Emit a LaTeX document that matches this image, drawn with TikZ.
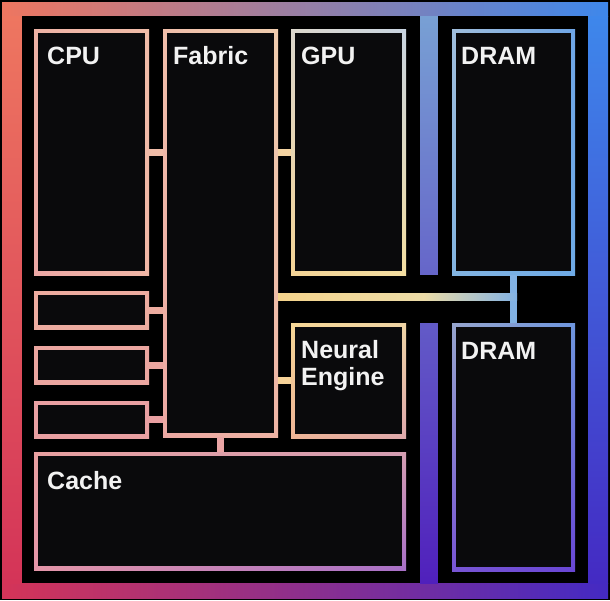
\documentclass[tikz,border=0pt]{standalone}
\usepackage{fontspec}
\setmainfont{Liberation Sans}
\usetikzlibrary{calc,shadings}
% frame colours
\definecolor{fTL}{RGB}{238,118,96}
\definecolor{fTM}{RGB}{195,170,145}
\definecolor{fTR}{RGB}{62,135,235}
\definecolor{fBL}{RGB}{212,52,88}
\definecolor{fBM}{RGB}{140,32,150}
\definecolor{fBR}{RGB}{68,42,195}
\definecolor{fLM}{RGB}{230,85,90}
\definecolor{fRM}{RGB}{62,105,220}
\definecolor{vbT}{RGB}{120,160,212}
\definecolor{vbM}{RGB}{95,115,212}
\definecolor{vbB}{RGB}{80,32,188}
% box colours
\definecolor{boxin}{RGB}{10,10,12}
\definecolor{labelc}{RGB}{242,242,242}
\definecolor{cpuA}{RGB}{238,178,165}\definecolor{cpuB}{RGB}{240,188,168}
\definecolor{cpuC}{RGB}{236,168,165}\definecolor{cpuD}{RGB}{240,182,165}
\definecolor{fabA}{RGB}{240,190,170}\definecolor{fabB}{RGB}{240,205,175}
\definecolor{fabC}{RGB}{236,168,163}\definecolor{fabD}{RGB}{238,180,165}
\definecolor{gpuA}{RGB}{220,215,205}\definecolor{gpuB}{RGB}{200,212,225}
\definecolor{gpuC}{RGB}{244,212,150}\definecolor{gpuD}{RGB}{244,222,160}
\definecolor{drA}{RGB}{160,190,220}\definecolor{drB}{RGB}{110,165,230}
\definecolor{drC}{RGB}{130,180,225}\definecolor{drD}{RGB}{110,170,230}
\definecolor{sbA}{RGB}{237,172,160}\definecolor{sbB}{RGB}{235,166,160}
\definecolor{sbC}{RGB}{233,160,162}
\definecolor{neA}{RGB}{246,215,150}\definecolor{neB}{RGB}{238,212,165}
\definecolor{neC}{RGB}{238,180,150}\definecolor{neD}{RGB}{222,168,172}
\definecolor{caA}{RGB}{232,160,160}\definecolor{caB}{RGB}{212,158,178}
\definecolor{caC}{RGB}{228,150,168}\definecolor{caD}{RGB}{168,112,200}
\definecolor{dbA}{RGB}{150,165,205}\definecolor{dbB}{RGB}{110,150,222}
\definecolor{dbC}{RGB}{120,85,212}\definecolor{dbD}{RGB}{105,70,212}
% connector colours
\definecolor{cCF}{RGB}{240,188,168}
\definecolor{cFG}{RGB}{244,212,162}
\definecolor{cFN}{RGB}{246,210,152}
\definecolor{cFC}{RGB}{234,165,165}
\definecolor{busL}{RGB}{245,212,140}
\definecolor{busM}{RGB}{236,220,168}
\definecolor{busR}{RGB}{130,178,228}
\tikzset{
  gbox/.style n args={4}{rectangle, inner sep=0pt, outer sep=0pt, draw=none,
    path picture={
      \shade[upper left=#1, upper right=#2, lower left=#3, lower right=#4]
        (path picture bounding box.south west) rectangle (path picture bounding box.north east);
      \fill[boxin] ([shift={(4pt,4pt)}]path picture bounding box.south west)
        rectangle ([shift={(-4pt,-4pt)}]path picture bounding box.north east);
    }},
  lbl/.style={text=labelc, font=\fontsize{25}{27}\selectfont\bfseries,
    inner sep=0pt, anchor=base west, align=left},
  conn/.style={line width=7pt},
}
\begin{document}
\begin{tikzpicture}[x=1pt,y=-1pt]
\useasboundingbox (0,0) rectangle (610,600);
% frame
\fill[black] (0,0) rectangle (610,600);
\shade[left color=fTL, middle color=fTM, right color=fTR] (2,2) rectangle (608,16);
\shade[left color=fBL, middle color=fBM, right color=fBR] (2,583) rectangle (608,598);
\shade[top color=fTL, middle color=fLM, bottom color=fBL] (2,16) rectangle (22,583);
\shade[top color=fTR, middle color=fRM, bottom color=fBR] (588,16) rectangle (608,583);
\shade[top color=vbT, middle color=vbM, bottom color=vbB] (420,16) rectangle (438,583);
\fill[black] (22,16) rectangle (420,583);
\fill[black] (438,16) rectangle (588,583);
\fill[black] (420,275) rectangle (438,323);
% boxes
\node[gbox={cpuA}{cpuB}{cpuC}{cpuD}, minimum width=115pt, minimum height=246pt] (cpu) at (91.5,152) {};
\node[gbox={fabA}{fabB}{fabC}{fabD}, minimum width=115pt, minimum height=408pt] (fabric) at (220.5,233) {};
\node[gbox={gpuA}{gpuB}{gpuC}{gpuD}, minimum width=115pt, minimum height=246pt] (gpu) at (348.5,152) {};
\node[gbox={drA}{drB}{drC}{drD}, minimum width=123pt, minimum height=246pt] (dram1) at (513.5,152) {};
\node[gbox={sbA}{sbA}{sbA}{sbA}, minimum width=115pt, minimum height=38pt] (sb1) at (91.5,310) {};
\node[gbox={sbB}{sbB}{sbB}{sbB}, minimum width=115pt, minimum height=38pt] (sb2) at (91.5,365) {};
\node[gbox={sbC}{sbC}{sbC}{sbC}, minimum width=115pt, minimum height=37pt] (sb3) at (91.5,419.5) {};
\node[gbox={neA}{neB}{neC}{neD}, minimum width=115pt, minimum height=115pt] (ne) at (348.5,380.5) {};
\node[gbox={caA}{caB}{caC}{caD}, minimum width=372pt, minimum height=118pt] (cache) at (220,511) {};
\node[gbox={dbA}{dbB}{dbC}{dbD}, minimum width=123pt, minimum height=248pt] (dram2) at (513.5,447) {};
% connectors
\draw[conn, cCF] (cpu.east) -- (fabric.west |- cpu.east);
\draw[conn, cFG] (fabric.east |- gpu.west) -- (gpu.west);
\draw[conn, sbA] (sb1.east) -- (fabric.west |- sb1.east);
\draw[conn, sbB] (sb2.east) -- (fabric.west |- sb2.east);
\draw[conn, sbC] (sb3.east) -- (fabric.west |- sb3.east);
\draw[conn, cFN] (fabric.east |- ne.west) -- (ne.west);
\draw[conn, cFC] (fabric.south) -- (cache.north -| fabric.south);
\coordinate (busj) at ($(dram1.south)!0.46!(dram2.north)$);
\coordinate (busm) at ($(fabric.east |- busj)!0.62!(busj)$);
\draw[conn, busR] (dram1.south) -- (dram2.north);
\shade[left color=busL, right color=busM]
  ([yshift=3.5pt]fabric.east |- busj) rectangle ([yshift=-3.5pt]busm);
\shade[left color=busM, right color=busR]
  ([xshift=-0.3pt,yshift=3.5pt]busm) rectangle ([shift={(3.5pt,-3.5pt)}]busj);
% labels
\node[lbl] (tcpu) at ([shift={(13pt,-35pt)}]cpu.north west) {CPU};
\node[lbl] (tfab) at ([shift={(10pt,-35pt)}]fabric.north west) {Fabric};
\node[lbl] (tgpu) at ([shift={(10pt,-35pt)}]gpu.north west) {GPU};
\node[lbl] (tdr1) at ([shift={(9pt,-35pt)}]dram1.north west) {DRAM};
\node[lbl] (tne) at ([shift={(10pt,-62pt)}]ne.north west) {Neural\\Engine};
\node[lbl] (tcache) at ([shift={(13pt,-37pt)}]cache.north west) {Cache};
\node[lbl] (tdr2) at ([shift={(9pt,-36pt)}]dram2.north west) {DRAM};
\end{tikzpicture}
\end{document}
